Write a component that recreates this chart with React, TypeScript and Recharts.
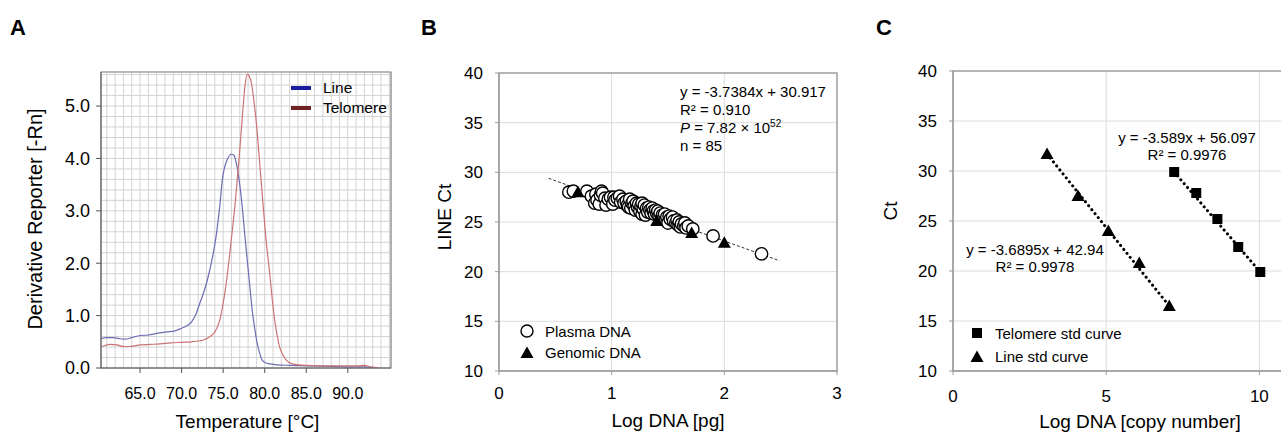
import React from "react";
import {
  LineChart,
  Line,
  XAxis,
  YAxis,
  CartesianGrid,
  ReferenceArea,
  ComposedChart,
  Scatter,
} from "recharts";

const FONT = "'Liberation Sans', Arial, sans-serif";

// ---- Panel A: melt curves ----
const lineMelt = [
  { t: 60.3, v: 0.56 }, { t: 61.0, v: 0.58 }, { t: 61.7, v: 0.58 }, { t: 62.5, v: 0.56 },
  { t: 63.2, v: 0.55 }, { t: 64.0, v: 0.58 }, { t: 65.0, v: 0.62 }, { t: 66.0, v: 0.63 },
  { t: 67.0, v: 0.66 }, { t: 68.2, v: 0.69 }, { t: 69.2, v: 0.71 }, { t: 70.0, v: 0.76 },
  { t: 70.7, v: 0.81 }, { t: 71.2, v: 0.88 }, { t: 71.7, v: 1.02 }, { t: 72.2, v: 1.24 },
  { t: 72.7, v: 1.46 }, { t: 73.1, v: 1.68 }, { t: 73.7, v: 2.1 }, { t: 74.2, v: 2.57 },
  { t: 74.6, v: 3.1 }, { t: 74.9, v: 3.59 }, { t: 75.5, v: 3.98 }, { t: 76.0, v: 4.08 },
  { t: 76.3, v: 4.06 }, { t: 76.6, v: 3.9 }, { t: 77.0, v: 3.5 }, { t: 77.3, v: 3.07 },
  { t: 77.6, v: 2.55 }, { t: 77.9, v: 2.06 }, { t: 78.2, v: 1.58 }, { t: 78.5, v: 1.1 },
  { t: 78.8, v: 0.75 }, { t: 79.1, v: 0.47 }, { t: 79.4, v: 0.28 }, { t: 79.7, v: 0.15 },
  { t: 80.1, v: 0.1 }, { t: 80.6, v: 0.08 }, { t: 81.5, v: 0.06 }, { t: 83.0, v: 0.05 },
  { t: 85.0, v: 0.04 }, { t: 88.0, v: 0.03 }, { t: 91.0, v: 0.02 }, { t: 92.0, v: 0.02 },
  { t: 93.0, v: 0.01 },
];
const telomereMelt = [
  { t: 60.3, v: 0.4 }, { t: 60.8, v: 0.43 }, { t: 61.4, v: 0.45 }, { t: 62.2, v: 0.44 },
  { t: 63.0, v: 0.41 }, { t: 63.8, v: 0.41 }, { t: 65.0, v: 0.44 }, { t: 66.2, v: 0.45 },
  { t: 67.4, v: 0.46 }, { t: 68.7, v: 0.48 }, { t: 70.0, v: 0.49 }, { t: 71.2, v: 0.5 },
  { t: 72.2, v: 0.52 }, { t: 72.7, v: 0.54 }, { t: 73.1, v: 0.57 }, { t: 73.6, v: 0.62 },
  { t: 74.0, v: 0.69 }, { t: 74.3, v: 0.78 }, { t: 74.6, v: 0.92 }, { t: 74.9, v: 1.15 },
  { t: 75.2, v: 1.43 }, { t: 75.5, v: 1.78 }, { t: 75.8, v: 2.19 }, { t: 76.1, v: 2.62 },
  { t: 76.4, v: 3.07 }, { t: 76.7, v: 3.6 }, { t: 77.0, v: 4.16 }, { t: 77.3, v: 4.78 },
  { t: 77.6, v: 5.34 }, { t: 77.9, v: 5.61 }, { t: 78.1, v: 5.58 }, { t: 78.4, v: 5.44 },
  { t: 78.7, v: 5.1 }, { t: 79.0, v: 4.67 }, { t: 79.35, v: 4.0 }, { t: 79.7, v: 3.33 },
  { t: 80.1, v: 2.55 }, { t: 80.6, v: 1.81 }, { t: 80.9, v: 1.33 }, { t: 81.2, v: 0.92 },
  { t: 81.5, v: 0.62 }, { t: 81.8, v: 0.4 }, { t: 82.2, v: 0.25 }, { t: 82.6, v: 0.15 },
  { t: 83.3, v: 0.08 }, { t: 85.0, v: 0.05 }, { t: 88.0, v: 0.04 }, { t: 91.0, v: 0.04 },
  { t: 92.0, v: 0.05 }, { t: 92.8, v: 0.02 }, { t: 93.8, v: 0.0 },
];
const meltTempLabels = [65, 70, 75, 80, 85, 90];
const meltValueLabels = [0, 1, 2, 3, 4, 5];
const meltTempGrid = [
  61, 62, 63, 64, 65, 66, 67, 68, 69, 70, 71, 72, 73, 74, 75, 76, 77, 78,
  79, 80, 81, 82, 83, 84, 85, 86, 87, 88, 89, 90, 91, 92, 93, 94, 95,
];
const meltValueGrid = [
  0, 0.2, 0.4, 0.6, 0.8, 1, 1.2, 1.4, 1.6, 1.8, 2, 2.2, 2.4, 2.6, 2.8, 3,
  3.2, 3.4, 3.6, 3.8, 4, 4.2, 4.4, 4.6, 4.8, 5, 5.2, 5.4, 5.6,
];

// ---- Panel B: LINE Ct vs log DNA ----
const plasmaPoints = [
  [0.62, 28.0], [0.66, 28.1], [0.78, 28.1], [0.82, 27.6], [0.85, 26.9], [0.86, 27.8],
  [0.87, 27.2], [0.89, 26.8], [0.9, 27.7], [0.91, 28.1], [0.92, 27.9], [0.94, 27.4],
  [0.95, 26.7], [0.97, 27.3], [0.99, 27.5], [1.01, 26.8], [1.02, 27.5], [1.03, 27.2],
  [1.05, 27.4], [1.07, 27.6], [1.08, 27.0], [1.1, 27.3], [1.11, 26.9], [1.13, 27.1],
  [1.14, 26.7], [1.15, 26.5], [1.16, 27.3], [1.17, 26.4], [1.18, 26.9], [1.19, 27.1],
  [1.2, 26.6], [1.21, 26.2], [1.22, 26.9], [1.23, 26.5], [1.24, 26.8], [1.25, 26.1],
  [1.26, 26.6], [1.27, 26.9], [1.27, 25.8], [1.28, 26.3], [1.29, 26.7], [1.3, 25.7],
  [1.31, 26.4], [1.32, 26.0], [1.33, 26.5], [1.34, 26.2], [1.35, 25.9], [1.36, 26.4],
  [1.37, 26.1], [1.38, 25.8], [1.39, 26.2], [1.4, 25.9], [1.41, 26.1], [1.42, 25.6],
  [1.43, 25.9], [1.44, 25.3], [1.45, 25.7], [1.46, 25.4], [1.47, 25.8], [1.48, 25.2],
  [1.49, 25.5], [1.5, 24.9], [1.51, 25.6], [1.52, 25.3], [1.54, 25.5], [1.55, 25.1],
  [1.57, 24.9], [1.58, 25.2], [1.59, 24.7], [1.6, 25.0], [1.61, 24.5], [1.62, 24.8],
  [1.64, 24.6], [1.65, 24.9], [1.66, 24.4], [1.68, 24.6], [1.72, 24.3], [1.9, 23.6],
  [2.33, 21.8],
].map(([x, y]) => ({ x, y }));
const genomicPoints = [
  { x: 0.7, y: 28.0 }, { x: 1.4, y: 25.1 }, { x: 1.71, y: 23.9 }, { x: 2.0, y: 22.9 },
];
const plasmaFit = [{ x: 0.44, y: 29.4 }, { x: 2.49, y: 21.1 }];
const dnaTicks = [0, 1, 2, 3];
const ctTicks = [10, 15, 20, 25, 30, 35, 40];

// ---- Panel C: standard curves ----
const telomereStd = [
  { x: 7.22, y: 29.9 }, { x: 7.94, y: 27.8 }, { x: 8.63, y: 25.2 }, { x: 9.31, y: 22.4 },
  { x: 10.03, y: 19.9 },
];
const lineStd = [
  { x: 3.07, y: 31.7 }, { x: 4.08, y: 27.5 }, { x: 5.07, y: 24.0 }, { x: 6.08, y: 20.8 },
  { x: 7.06, y: 16.5 },
];
const telomereFit = [{ x: 7.22, y: 29.9 }, { x: 10.03, y: 19.9 }];
const lineFit = [{ x: 3.07, y: 31.7 }, { x: 7.06, y: 16.5 }];
const copyTicks = [0, 5, 10];

const isLabel = (list: number[], v: number) => list.some((l) => Math.abs(l - v) < 1e-6);

// x tick of panel A: only the labelled temps get a mark + text
const MeltXTick = (p: any) => {
  const v = p.payload.value;
  if (!isLabel(meltTempLabels, v)) return <g />;
  return (
    <g>
      <line x1={p.x} x2={p.x} y1={p.y - 20} y2={p.y - 15} stroke="#555" />
      <text x={p.x} y={p.y} dy="0.71em" textAnchor="middle" fontSize={16} fontFamily={FONT} fill="#000">
        {v.toFixed(1)}
      </text>
    </g>
  );
};
const MeltYTick = (p: any) => {
  const v = p.payload.value;
  if (!isLabel(meltValueLabels, v)) return <g />;
  return (
    <g>
      <line x1={p.x + 6} x2={p.x + 11} y1={p.y} y2={p.y} stroke="#555" />
      <text x={p.x} y={p.y} dy="0.355em" textAnchor="end" fontSize={18} fontFamily={FONT} fill="#000">
        {v.toFixed(1)}
      </text>
    </g>
  );
};

const OpenCircle = (p: any) => (
  <circle cx={p.cx} cy={p.cy} r={6.2} fill="#fff" stroke="#000" strokeWidth={1.4} />
);
const Triangle = (p: any) => (
  <path
    d={`M${p.cx},${p.cy - 6.5} L${p.cx + 6.5},${p.cy + 5} L${p.cx - 6.5},${p.cy + 5} Z`}
    fill="#000"
  />
);
const Square = (p: any) => (
  <rect x={p.cx - 5} y={p.cy - 5} width={10} height={10} fill="#000" />
);

const tickStyle = (size: number) => ({ fontSize: size, fill: "#000", fontFamily: FONT });

function MeltPanel() {
  return (
    <LineChart
      width={420}
      height={434}
      margin={{ top: 72, right: 29, bottom: 36, left: 41 }}
    >
      <CartesianGrid stroke="#d3d3d3" />
      <XAxis
        type="number"
        dataKey="t"
        domain={[60.3, 95.2]}
        ticks={meltTempGrid}
        interval={0}
        height={30}
        tickSize={5}
        tickMargin={15}
        tickLine={false}
        stroke="#666"
        tick={MeltXTick}
        allowDataOverflow
      />
      <YAxis
        type="number"
        domain={[0, 5.65]}
        ticks={meltValueGrid}
        interval={0}
        width={60}
        tickSize={5}
        tickMargin={6}
        tickLine={false}
        stroke="#666"
        tick={MeltYTick}
        allowDataOverflow
      />
      <ReferenceArea x1={60.3} x2={95.2} y1={0} y2={5.65} fill="none" stroke="#8a8a8a" strokeWidth={1.2} />
      <Line
        data={lineMelt}
        dataKey="v"
        type="monotone"
        stroke="#6d6db4"
        strokeWidth={1.2}
        dot={false}
        isAnimationActive={false}
      />
      <Line
        data={telomereMelt}
        dataKey="v"
        type="monotone"
        stroke="#cc7474"
        strokeWidth={1.2}
        dot={false}
        isAnimationActive={false}
      />
    </LineChart>
  );
}

function LinePanel() {
  return (
    <ComposedChart
      width={440}
      height={434}
      margin={{ top: 73, right: 23, bottom: 33, left: 39 }}
    >
      <CartesianGrid stroke="#dcdcdc" />
      <XAxis
        type="number"
        dataKey="x"
        domain={[0, 3]}
        ticks={dnaTicks}
        height={30}
        tickSize={4}
        tickMargin={12}
        stroke="#9a9a9a"
        tick={tickStyle(17)}
      />
      <YAxis
        type="number"
        dataKey="y"
        domain={[10, 40]}
        ticks={ctTicks}
        width={40}
        tickSize={4}
        tickMargin={12}
        stroke="#9a9a9a"
        tick={tickStyle(17)}
      />
      <ReferenceArea x1={0} x2={3} y1={10} y2={40} fill="none" stroke="#a3a3a3" strokeWidth={1.5} />
      <Line
        data={plasmaFit}
        dataKey="y"
        type="linear"
        stroke="#333"
        strokeWidth={1}
        strokeDasharray="3 2"
        dot={false}
        isAnimationActive={false}
      />
      <Scatter data={plasmaPoints} shape={OpenCircle} isAnimationActive={false} />
      <Scatter data={genomicPoints} shape={Triangle} isAnimationActive={false} />
    </ComposedChart>
  );
}

function StdPanel() {
  return (
    <ComposedChart
      width={430}
      height={434}
      margin={{ top: 71, right: 0, bottom: 33, left: 53 }}
    >
      <CartesianGrid stroke="#dcdcdc" />
      <XAxis
        type="number"
        dataKey="x"
        domain={[0, 11]}
        ticks={copyTicks}
        height={30}
        tickSize={4}
        tickMargin={15}
        stroke="#9a9a9a"
        tick={tickStyle(17)}
      />
      <YAxis
        type="number"
        dataKey="y"
        domain={[10, 40]}
        ticks={ctTicks}
        width={40}
        tickSize={4}
        tickMargin={12}
        stroke="#9a9a9a"
        tick={tickStyle(17)}
      />
      <ReferenceArea x1={0} x2={11} y1={10} y2={40} fill="none" stroke="#a3a3a3" strokeWidth={1.5} />
      <Line
        data={telomereFit}
        dataKey="y"
        type="linear"
        stroke="#000"
        strokeWidth={3}
        strokeDasharray="0.1 5"
        strokeLinecap="round"
        dot={false}
        isAnimationActive={false}
      />
      <Line
        data={lineFit}
        dataKey="y"
        type="linear"
        stroke="#000"
        strokeWidth={3}
        strokeDasharray="0.1 5"
        strokeLinecap="round"
        dot={false}
        isAnimationActive={false}
      />
      <Scatter data={telomereStd} shape={Square} isAnimationActive={false} />
      <Scatter data={lineStd} shape={Triangle} isAnimationActive={false} />
    </ComposedChart>
  );
}

export default function App() {
  return (
    <div
      style={{
        position: "absolute",
        left: 0,
        top: 0,
        width: 1281,
        height: 434,
        overflow: "hidden",
        background: "#fff",
        fontFamily: FONT,
      }}
    >
      <div style={{ position: "absolute", left: 0, top: 0 }}>
        <MeltPanel />
      </div>
      <div style={{ position: "absolute", left: 420, top: 0 }}>
        <LinePanel />
      </div>
      <div style={{ position: "absolute", left: 860, top: 0 }}>
        <StdPanel />
      </div>
      <svg
        width={1281}
        height={434}
        style={{ position: "absolute", left: 0, top: 0, pointerEvents: "none" }}
        fontFamily={FONT}
      >
        {/* panel letters */}
        <text x={10} y={35} fontSize={22} fontWeight="bold">A</text>
        <text x={421} y={35} fontSize={22} fontWeight="bold">B</text>
        <text x={876} y={35} fontSize={22} fontWeight="bold">C</text>

        {/* panel A labels + legend */}
        <text x={34.5} y={219} fontSize={20} textAnchor="middle" dominantBaseline="central" transform="rotate(-90 34.5 219)">
          Derivative Reporter [-Rn]
        </text>
        <text x={247.5} y={428} fontSize={19} textAnchor="middle">Temperature [°C]</text>
        <line x1={291} x2={311} y1={88} y2={88} stroke="#1b1b9e" strokeWidth={4} />
        <line x1={291} x2={311} y1={108} y2={108} stroke="#6e2222" strokeWidth={4} />
        <text x={323} y={93} fontSize={15.5}>Line</text>
        <text x={323} y={113} fontSize={15.5}>Telomere</text>

        {/* panel B labels */}
        <text x={444} y={217} fontSize={19} textAnchor="middle" dominantBaseline="central" transform="rotate(-90 444 217)">
          LINE Ct
        </text>
        <text x={668} y={427} fontSize={19} textAnchor="middle">Log DNA [pg]</text>
        <text x={680} y={97} fontSize={15}>y = -3.7384x + 30.917</text>
        <text x={680} y={115} fontSize={15}>R² = 0.910</text>
        <text x={680} y={133} fontSize={15}>
          <tspan fontStyle="italic">P</tspan> = 7.82 × 10<tspan fontSize={10} dy={-6}>52</tspan>
        </text>
        <text x={680} y={151} fontSize={15}>n = 85</text>
        <circle cx={527} cy={331} r={6} fill="#fff" stroke="#000" strokeWidth={1.4} />
        <path d="M527,346.5 L533.5,358 L520.5,358 Z" fill="#000" />
        <text x={545} y={337} fontSize={15}>Plasma DNA</text>
        <text x={545} y={358} fontSize={15}>Genomic DNA</text>

        {/* panel C labels */}
        <text x={890} y={211} fontSize={19} textAnchor="middle" dominantBaseline="central" transform="rotate(-90 890 211)">
          Ct
        </text>
        <text x={1140} y={428} fontSize={19} textAnchor="middle">Log DNA [copy number]</text>
        <text x={1187} y={143} fontSize={15} textAnchor="middle">y = -3.589x + 56.097</text>
        <text x={1187} y={160} fontSize={15} textAnchor="middle">R² = 0.9976</text>
        <text x={1035} y={255} fontSize={15} textAnchor="middle">y = -3.6895x + 42.94</text>
        <text x={1035} y={272} fontSize={15} textAnchor="middle">R² = 0.9978</text>
        <rect x={972} y={328} width={10} height={10} fill="#000" />
        <path d="M977,350.5 L983.5,362 L970.5,362 Z" fill="#000" />
        <text x={995} y={339} fontSize={15}>Telomere std curve</text>
        <text x={995} y={362} fontSize={15}>Line std curve</text>
      </svg>
    </div>
  );
}
